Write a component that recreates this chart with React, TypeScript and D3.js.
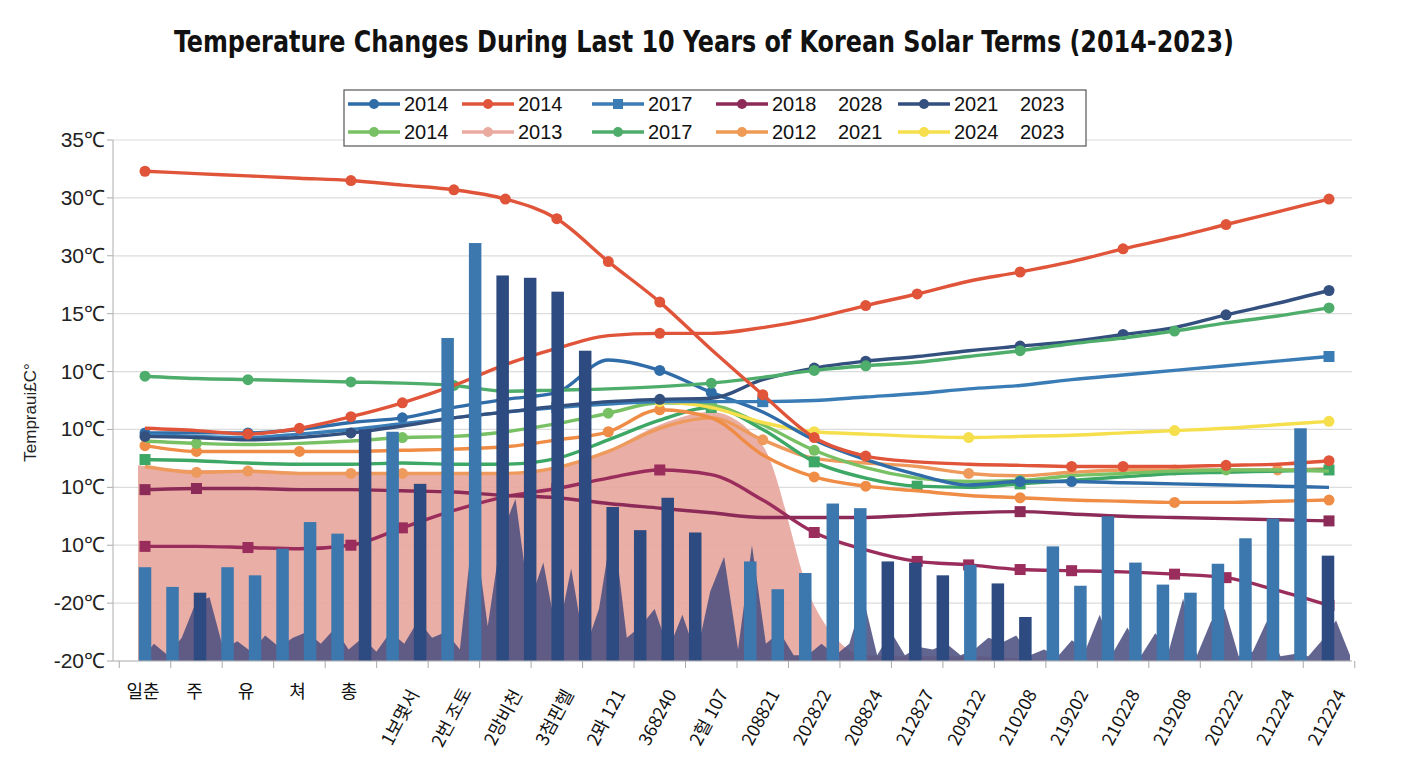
import React from "react";
import * as d3 from "d3";

// solar term labels along the bottom
const categories = [
    "일춘", "주", "유", "쳐", "총", "1보몇서", "2번 조토", "2망비천", "3첨핀헬", "2뫄 121",
    "368240", "2헐 107", "208821", "202822", "208824", "212827", "209122", "210208",
    "219202", "210228", "219208", "202222", "212224", "212224",
];

const yTickValues = [-10, -5, 0, 5, 10, 15, 20, 25, 30, 35];
const yTickLabels = ["-20℃", "-20℃", "10℃", "10℃", "10℃", "10℃", "15℃", "30℃", "30℃", "35℃"];

// line series, one value per solar term
const redFalling = [32.3, 32.1, 31.9, 31.7, 31.5, 31.1, 30.7, 29.9, 28.2, 24.5, 21.0, 16.9, 13.0, 9.3, 7.7, 7.2, 7.0, 6.9, 6.8, 6.8, 6.8, 6.9, 7.0, 7.3];
const redRising = [10.1, 9.9, 9.6, 10.1, 11.1, 12.3, 13.8, 15.6, 17.0, 18.1, 18.3, 18.3, 18.8, 19.6, 20.7, 21.7, 22.8, 23.6, 24.5, 25.6, 26.6, 27.7, 28.8, 29.9];
const navy2021 = [9.4, 9.3, 9.1, 9.3, 9.7, 10.3, 11.0, 11.5, 12.0, 12.4, 12.6, 12.7, 14.3, 15.3, 15.9, 16.3, 16.8, 17.2, 17.6, 18.2, 18.8, 19.9, 20.9, 22.0];
const blue2014 = [9.7, 9.7, 9.7, 10.0, 10.6, 11.0, 11.9, 12.6, 13.2, 16.0, 15.1, 13.2, 11.5, 9.1, 7.4, 6.1, 5.2, 5.5, 5.5, 5.4, 5.3, 5.2, 5.1, 5.0];
const blue2017 = [9.6, 9.4, 9.3, 9.6, 10.0, 10.5, 11.0, 11.5, 11.9, 12.2, 12.4, 12.4, 12.4, 12.5, 12.8, 13.1, 13.5, 13.8, 14.3, 14.7, 15.1, 15.5, 15.9, 16.3];
const green2017 = [14.6, 14.4, 14.3, 14.2, 14.1, 14.0, 13.8, 13.3, 13.4, 13.5, 13.7, 14.0, 14.5, 15.1, 15.5, 15.8, 16.3, 16.8, 17.4, 17.9, 18.5, 19.2, 19.8, 20.5];
const lightGreen2014 = [9.0, 8.8, 8.7, 8.8, 9.0, 9.3, 9.4, 9.8, 10.5, 11.4, 12.3, 12.1, 10.4, 8.2, 6.7, 5.8, 5.5, 5.6, 6.0, 6.2, 6.4, 6.5, 6.5, 6.4];
const greenLower = [7.4, 7.3, 7.1, 7.0, 7.0, 7.1, 7.0, 7.0, 7.5, 9.1, 10.8, 11.9, 10.0, 7.2, 5.8, 5.1, 5.0, 5.3, 5.6, 5.9, 6.2, 6.3, 6.4, 6.5];
const orange2012 = [8.6, 8.1, 8.1, 8.1, 8.1, 8.2, 8.3, 8.5, 9.1, 9.8, 11.7, 11.0, 7.8, 5.9, 5.1, 4.7, 4.3, 4.1, 3.9, 3.8, 3.7, 3.7, 3.8, 3.9];
const orangeLower = [6.8, 6.3, 6.4, 6.2, 6.2, 6.2, 6.2, 6.2, 6.7, 8.1, 10.1, 11.0, 9.1, 7.5, 7.1, 6.8, 6.2, 6.0, 6.3, 6.5, 6.5, 6.5, 6.5, 6.6];
const maroonUpper = [4.8, 4.9, 4.9, 4.8, 4.8, 4.7, 4.6, 4.3, 4.1, 3.6, 3.2, 2.8, 2.4, 2.4, 2.4, 2.6, 2.8, 2.9, 2.7, 2.5, 2.4, 2.3, 2.2, 2.1];
const maroonLower = [-0.1, -0.1, -0.2, -0.3, 0.0, 1.5, 3.0, 4.2, 4.9, 5.8, 6.5, 6.1, 3.9, 1.1, -0.4, -1.4, -1.7, -2.1, -2.2, -2.3, -2.5, -2.8, -3.9, -5.2];
const yellow2024 = [null, null, null, null, null, null, null, null, null, null, 12.4, 11.9, 10.6, 9.8, 9.6, 9.4, 9.3, 9.4, 9.5, 9.7, 9.9, 10.1, 10.4, 10.7];

// pink 2013 area
const pink2013 = [6.9, 6.5, 6.5, 6.3, 6.2, 6.2, 6.2, 6.2, 6.8, 8.2, 10.4, 11.5, 8.6, -5.2, -9.5, -9.6, -9.6, -9.8, -10, -10, -10, -10, -10, -10];

// bars, two per solar term slot
const barsLight = [-1.9, -3.6, null, -1.9, -2.6, -0.3, 2.0, 1.0, null, 9.8, null, 17.9, 26.1, null, null, null, null, null, null, null, null, null, -1.4, -3.8, -2.4, 3.6, 3.2, null, null, null, -1.7, null, null, -0.1, -3.5, 2.5, -1.5, -3.4, -4.1, -1.6, 0.6, 2.3, 10.1, null];
const barsDark = [null, null, -4.1, null, null, null, null, null, 10.0, null, 5.3, null, null, 23.3, 23.1, 21.9, 16.8, 3.3, 1.3, 4.1, 1.1, null, null, null, null, null, null, -1.4, -1.5, -2.6, null, -3.3, -6.2, null, null, null, null, null, null, null, null, null, null, -0.9];

// dark spiky band along the floor
const spikes = [
    -10, -8.5, -9.5, -8.0, -5.0, -4.5, -9.0, -8.3, -9.2, -7.8, -8.8, -8.0, -7.5, -8.5, -7.2, -9.0,
    -8.0, -9.2, -7.5, -8.5, -6.5, -8.0, -7.5, -9.0, 2.0, -7.0, 1.0, 4.0, -5.0, -1.5, -8.0, -2.0,
    -9.0, -5.5, 2.0, -8.0, -7.0, -5.5, -9.0, -6.0, -9.5, -4.0, -1.0, -9.0, 0.0, -8.5, -7.5, -9.5,
    -9.5, -8.5, -9.5, -8.5, -4.5, -9.5, -7.5, -9.5, -8.8, -9.0, -8.5, -9.5, -9.0, -8.0, -8.4, -7.8,
    -9.5, -9.0, -9.6, -8.2, -9.0, -6.0, -9.2, -7.1, -9.5, -7.6, -9.0, -4.6, -9.5, -6.6, -5.5, -9.6,
    -9.2, -6.6, -9.6, -9.4, -9.6, -8.2, -6.5, -9.5,
];

const series = [
    { values: orangeLower, color: "#ee9a5c", shape: "circle", marks: [1, 2, 4, 5, 12, 16, 20, 22] },
    { values: maroonLower, color: "#9a2d5c", shape: "square", marks: [0, 2, 4, 5, 8, 10, 13, 15, 16, 17, 18, 20, 21, 23] },
    { values: maroonUpper, color: "#8c2b57", shape: "square", marks: [0, 1, 17, 23] },
    { values: greenLower, color: "#3da765", shape: "square", marks: [0, 11, 13, 15, 17, 23] },
    { values: orange2012, color: "#ef8c45", shape: "circle", marks: [0, 1, 3, 9, 10, 13, 14, 17, 20, 23] },
    { values: lightGreen2014, color: "#78c064", shape: "circle", marks: [1, 5, 9, 11, 13, 17, 21] },
    { values: yellow2024, color: "#f6df4c", shape: "circle", marks: [10, 13, 16, 20, 23] },
    { values: blue2014, color: "#2f6ca8", shape: "circle", marks: [0, 2, 5, 10, 11, 17, 18] },
    { values: blue2017, color: "#3a7db6", shape: "square", marks: [8, 12, 23] },
    { values: navy2021, color: "#33507f", shape: "circle", marks: [0, 4, 10, 13, 14, 17, 19, 21, 23] },
    { values: green2017, color: "#4fad6c", shape: "circle", marks: [0, 2, 4, 6, 11, 13, 14, 17, 20, 23] },
    { values: redRising, color: "#e0553a", shape: "circle", marks: [2, 3, 4, 5, 10, 14, 15, 17, 19, 21, 23] },
    { values: redFalling, color: "#e0553a", shape: "circle", marks: [0, 4, 6, 7, 8, 9, 10, 12, 13, 14, 18, 19, 21, 23] },
];

const legendRows = [
    [
        { label: "2014", color: "#2f6ca8", shape: "circle" },
        { label: "2014", color: "#e0553a", shape: "circle" },
        { label: "2017", color: "#3a7db6", shape: "square" },
        { label: "2018", extra: "2028", color: "#8c2b57", shape: "circle" },
        { label: "2021", extra: "2023", color: "#33507f", shape: "circle" },
    ],
    [
        { label: "2014", color: "#78c064", shape: "circle" },
        { label: "2013", color: "#eaaa9f", shape: "circle" },
        { label: "2017", color: "#4fad6c", shape: "circle" },
        { label: "2012", extra: "2021", color: "#ef9a55", shape: "circle" },
        { label: "2024", extra: "2023", color: "#f6df4c", shape: "circle" },
    ],
];

const W = 1408;
const H = 768;
const left = 113;
const right = 1352;
const top = 140;
const bottom = 661;
const sans = "'Liberation Sans', Arial, sans-serif";
const kr = "'Noto Sans CJK KR', 'Liberation Sans', sans-serif";

const App: React.FC = () => {
    const x = d3.scalePoint<number>().domain(d3.range(categories.length)).range([145, 1329]);
    const y = d3.scaleLinear().domain([-10, 35]).range([bottom, top]);
    const xBar = d3.scaleLinear().domain([0, barsLight.length - 1]).range([145, 1328]);
    const xSpike = d3.scaleLinear().domain([0, spikes.length - 1]).range([140, 1350]);
    const step = x.step();

    const line = d3
        .line<number | null>()
        .defined((d) => d != null)
        .x((_, i) => x(i) as number)
        .y((d) => y(d as number))
        .curve(d3.curveMonotoneX);

    const pinkArea = d3
        .area<number>()
        .x((_, i) => (i === 0 ? 138 : (x(i) as number)))
        .y0(bottom)
        .y1((d) => y(d))
        .curve(d3.curveMonotoneX);

    const spikeArea = d3
        .area<number>()
        .x((_, i) => xSpike(i))
        .y0(bottom)
        .y1((d) => y(d));

    const barW = 12.5;
    const legendCols = [348, 462, 592, 716, 898];
    const legendExtra = [0, 0, 0, 838, 1020];

    const marker = (shape: string, cx: number, cy: number, color: string, key: string, r = 5.5) =>
        shape === "square" ? (
            <rect key={key} x={cx - r} y={cy - r} width={r * 2} height={r * 2} fill={color} />
        ) : (
            <circle key={key} cx={cx} cy={cy} r={r} fill={color} />
        );

    return (
        <svg width={W} height={H} style={{ position: "absolute", left: 0, top: 0, background: "#fff" }}>
            <text
                x={W / 2}
                y={52}
                textAnchor="middle"
                fontFamily="'Liberation Sans Narrow', 'DejaVu Sans Condensed', sans-serif"
                fontWeight="bold"
                fontSize={30}
                textLength={1060}
                lengthAdjust="spacingAndGlyphs"
                fill="#111"
            >
                Temperature Changes During Last 10 Years of Korean Solar Terms (2014-2023)
            </text>

            {/* grid + y axis */}
            {yTickValues.map((v, i) => (
                <g key={"g" + i}>
                    <line x1={left} x2={right} y1={y(v)} y2={y(v)} stroke="#dcdcdc" strokeWidth={1.2} />
                    <line x1={left - 6} x2={left} y1={y(v)} y2={y(v)} stroke="#aaa" />
                    <text x={left - 8} y={y(v) + 7} textAnchor="end" fontFamily={sans} fontSize={21} fill="#222">
                        {yTickLabels[i]}
                    </text>
                </g>
            ))}
            <line x1={left} x2={left} y1={top} y2={bottom} stroke="#bbb" strokeWidth={1.2} />
            <text
                transform={`translate(36,${(top + bottom) / 2 + 12}) rotate(-90)`}
                textAnchor="middle"
                fontFamily={sans}
                fontSize={17}
                fill="#222"
            >
                Tempraui£C°
            </text>

            <path d={pinkArea(pink2013) ?? ""} fill="#e7a59b" opacity={0.9} />
            <path d={spikeArea(spikes) ?? ""} fill="#4c5081" opacity={0.88} />

            {series.map((s, si) => (
                <g key={"s" + si}>
                    <path d={line(s.values) ?? ""} fill="none" stroke={s.color} strokeWidth={3.4} />
                    {s.marks
                        .filter((i) => s.values[i] != null)
                        .map((i) =>
                            marker(s.shape, x(i) as number, y(s.values[i] as number), s.color, `m${si}-${i}`)
                        )}
                </g>
            ))}

            {barsLight.map((v, i) =>
                v == null ? null : (
                    <rect key={"bl" + i} x={xBar(i) - barW / 2} y={y(v)} width={barW} height={bottom - y(v)} fill="#3c77ae" />
                )
            )}
            {barsDark.map((v, i) =>
                v == null ? null : (
                    <rect key={"bd" + i} x={xBar(i) - barW / 2} y={y(v)} width={barW} height={bottom - y(v)} fill="#2d4a81" />
                )
            )}

            {/* x axis */}
            <line x1={left} x2={right} y1={bottom} y2={bottom} stroke="#bbb" strokeWidth={1.2} />
            {d3.range(categories.length + 1).map((i) => {
                const tx = (x(0) as number) - step / 2 + i * step;
                return <line key={"t" + i} x1={tx} x2={tx} y1={bottom} y2={bottom + 7} stroke="#aaa" />;
            })}
            {categories.map((c, i) =>
                i < 5 ? (
                    <text key={"c" + i} x={(x(i) as number) - 2} y={698} textAnchor="middle" fontFamily={kr} fontSize={18} fill="#111">
                        {c}
                    </text>
                ) : (
                    <text
                        key={"c" + i}
                        transform={`translate(${(x(i) as number) - 1},${718}) rotate(-62)`}
                        textAnchor="middle"
                        dominantBaseline="middle"
                        fontFamily={kr}
                        fontSize={18}
                        fill="#111"
                    >
                        {c}
                    </text>
                )
            )}

            {/* legend */}
            <rect x={344} y={90} width={742} height={56} fill="#fff" stroke="#555" strokeWidth={1.2} />
            {legendRows.map((row, ri) =>
                row.map((item, ci) => {
                    const ly = 104 + ri * 28;
                    const lx = legendCols[ci];
                    return (
                        <g key={`lg${ri}-${ci}`}>
                            <line x1={lx} x2={lx + 52} y1={ly} y2={ly} stroke={item.color} strokeWidth={3.4} />
                            {marker(item.shape, lx + 26, ly, item.color, "lm", 5)}
                            <text x={lx + 56} y={ly + 7} fontFamily={sans} fontSize={20} fill="#111">
                                {item.label}
                            </text>
                            {item.extra ? (
                                <text x={legendExtra[ci]} y={ly + 7} fontFamily={sans} fontSize={20} fill="#111">
                                    {item.extra}
                                </text>
                            ) : null}
                        </g>
                    );
                })
            )}
        </svg>
    );
};

export default App;
